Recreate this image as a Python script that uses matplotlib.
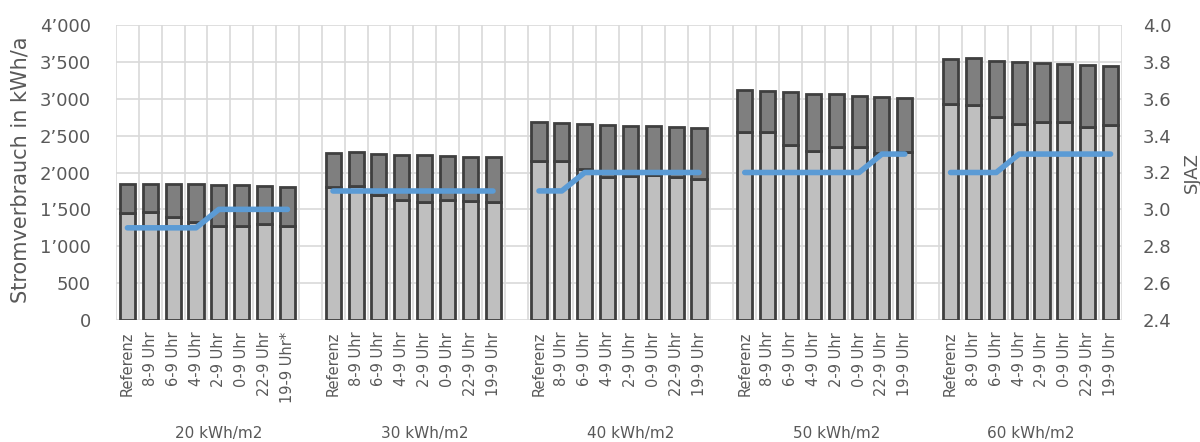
import matplotlib
matplotlib.use("Agg")
import matplotlib.pyplot as plt
from matplotlib.ticker import FuncFormatter, MultipleLocator

plt.rcParams['font.family'] = ['DejaVu Sans']

# Betriebszeiten der Wärmepumpe je Gebäudestandard
groups = ["20 kWh/m2", "30 kWh/m2", "40 kWh/m2", "50 kWh/m2", "60 kWh/m2"]
labels_20 = ["Referenz", "8-9 Uhr", "6-9 Uhr", "4-9 Uhr", "2-9 Uhr", "0-9 Uhr", "22-9 Uhr", "19-9 Uhr*"]
labels_std = ["Referenz", "8-9 Uhr", "6-9 Uhr", "4-9 Uhr", "2-9 Uhr", "0-9 Uhr", "22-9 Uhr", "19-9 Uhr"]
category_labels = [labels_20, labels_std, labels_std, labels_std, labels_std]

# Stromverbrauch, unterer Anteil (hell) in kWh/a
lower = [
    [1450, 1465, 1392, 1325, 1280, 1272, 1297, 1275],
    [1810, 1817, 1691, 1627, 1604, 1627, 1620, 1596],
    [2156, 2150, 2047, 1935, 1957, 1966, 1935, 1908],
    [2545, 2545, 2373, 2296, 2350, 2350, 2265, 2282],
    [2925, 2920, 2757, 2658, 2689, 2689, 2617, 2640],
]
# Stromverbrauch, oberer Anteil (dunkel) in kWh/a
upper = [
    [400, 385, 453, 515, 550, 558, 518, 533],
    [451, 457, 560, 610, 629, 601, 595, 610],
    [524, 526, 611, 709, 678, 669, 686, 691],
    [574, 560, 714, 769, 710, 687, 759, 733],
    [614, 628, 755, 836, 796, 782, 836, 804],
]
# Saisonale Jahresarbeitszahl
sjaz = [
    [2.9, 2.9, 2.9, 2.9, 3.0, 3.0, 3.0, 3.0],
    [3.1, 3.1, 3.1, 3.1, 3.1, 3.1, 3.1, 3.1],
    [3.1, 3.1, 3.2, 3.2, 3.2, 3.2, 3.2, 3.2],
    [3.2, 3.2, 3.2, 3.2, 3.2, 3.2, 3.3, 3.3],
    [3.2, 3.2, 3.2, 3.3, 3.3, 3.3, 3.3, 3.3],
]

light = "#BFBFBF"
dark = "#7F7F7F"
edge = "#3F3F3F"
blue = "#5B9BD5"
grid = "#D9D9D9"
txt = "#595959"

fig = plt.figure(figsize=(12, 4.42), dpi=100)
ax = fig.add_axes([116 / 1200, 1 - 320 / 442, (1122 - 116) / 1200, (320 - 25) / 442])
ax2 = ax.twinx()

n_per = len(labels_std)
slots = n_per * len(groups) + len(groups) - 1

positions = []
for g in range(len(groups)):
    start = g * (n_per + 1)
    pos = [start + i + 0.5 for i in range(n_per)]
    positions.append(pos)
    ax.bar(pos, lower[g], width=0.66, color=light, edgecolor=edge, linewidth=2.0, zorder=3)
    ax.bar(pos, upper[g], bottom=lower[g], width=0.66, color=dark, edgecolor=edge,
           linewidth=2.0, zorder=3)
    ax2.plot(pos, sjaz[g], color=blue, linewidth=4.0, solid_capstyle='round',
             solid_joinstyle='round', zorder=4)

ax.set_xlim(0, slots)
ax.set_ylim(0, 4000)
ax2.set_ylim(2.4, 4.0)

ax.yaxis.set_major_locator(MultipleLocator(500))
ax.yaxis.set_major_formatter(FuncFormatter(lambda v, p: f"{int(v):,}".replace(",", "\u2019")))
ax2.yaxis.set_major_locator(MultipleLocator(0.2))
ax2.yaxis.set_major_formatter(FuncFormatter(lambda v, p: f"{v:.1f}"))

# Gitternetz: horizontal je 500, vertikal an jeder Kategoriegrenze
for y in range(0, 4001, 500):
    ax.axhline(y, color=grid, linewidth=1.2, zorder=1)
for x in range(0, slots + 1):
    ax.axvline(x, color=grid, linewidth=1.2, zorder=1)

ax.set_xticks([])
for a in (ax, ax2):
    for s in a.spines.values():
        s.set_visible(False)
    a.tick_params(axis='y', length=0, labelsize=13, colors=txt)
ax.tick_params(axis='y', pad=18)
ax2.tick_params(axis='y', pad=15)

ax.set_ylabel("Stromverbrauch in kWh/a", fontsize=15, color=txt)
ax2.set_ylabel("SJAZ", fontsize=13, color=txt)
ax.yaxis.label.set_va('center')
ax2.yaxis.label.set_va('center')
ax.yaxis.set_label_coords(-0.0954, 0.508)
ax2.yaxis.set_label_coords(1.0696, 0.5)

ax2.patch.set_visible(False)

# Kategorienbeschriftung in zwei Ebenen
trans = ax.get_xaxis_transform()
for g in range(len(groups)):
    for p, lab in zip(positions[g], category_labels[g]):
        ax.text(p, -0.04, lab, rotation=90, ha='center', va='top', fontsize=10.5,
                color=txt, transform=trans)
    span_start = g * (n_per + 1)
    span_end = min(span_start + n_per + 1, slots)
    center = (span_start + span_end) / 2
    ax.text(center, -0.385, groups[g], ha='center', va='center', fontsize=11,
            color=txt, transform=trans)

fig.savefig("out.png", dpi=100)
